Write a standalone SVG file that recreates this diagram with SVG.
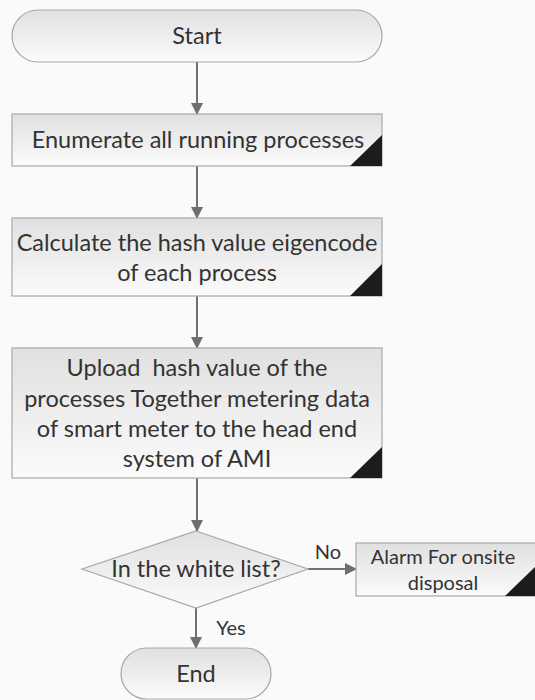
<svg xmlns="http://www.w3.org/2000/svg" width="535" height="700" viewBox="0 0 535 700">
<defs>
<linearGradient id="g" x1="0" y1="0" x2="0" y2="1">
<stop offset="0" stop-color="#e0e0e0"/>
<stop offset="1" stop-color="#fbfbfb"/>
</linearGradient>
<marker id="ah" markerWidth="12" markerHeight="12" refX="11" refY="6" orient="auto" markerUnits="userSpaceOnUse">
<path d="M0,0 L12,6 L0,12 Z" fill="#6e6e6e"/>
</marker>
</defs>
<style>
.shape{fill:url(#g);stroke:#a8a8a8;stroke-width:1.2}
.tri{fill:#1c1c1c}
.t{font-family:Lato,"Open Sans","Liberation Sans",sans-serif;font-size:23.5px;fill:#333;text-anchor:middle;white-space:pre}
.s{font-size:20px}
.conn{stroke:#707070;stroke-width:2;fill:none;marker-end:url(#ah)}
</style>
<rect width="535" height="700" fill="#fafafa"/>
<g id="connectors">
<line class="conn" x1="197" y1="62" x2="197" y2="114"/>
<line class="conn" x1="197" y1="166" x2="197" y2="218"/>
<line class="conn" x1="197" y1="296" x2="197" y2="348"/>
<line class="conn" x1="197" y1="478" x2="197" y2="531"/>
<line class="conn" x1="308" y1="569" x2="356" y2="569"/>
<line class="conn" x1="196" y1="608" x2="196" y2="648"/>
<text class="t s" x="328" y="559">No</text>
<text class="t s" x="231" y="635">Yes</text>
</g>
<g id="start">
<rect class="shape" x="12" y="10" width="370" height="52" rx="26" ry="26"/>
<text class="t" x="197" y="44">Start</text>
</g>
<g id="enumerate">
<rect class="shape" x="12" y="114" width="370" height="52"/>
<polygon class="tri" points="350,166 382,166 382,135"/>
<text class="t" x="198" y="148">Enumerate all running processes</text>
</g>
<g id="calculate">
<rect class="shape" x="12" y="218" width="370" height="78"/>
<polygon class="tri" points="350,296 382,296 382,264"/>
<text class="t" x="197" y="251">Calculate the hash value eigencode</text>
<text class="t" x="197" y="281">of each process</text>
</g>
<g id="upload">
<rect class="shape" x="12" y="348" width="370" height="130"/>
<polygon class="tri" points="350,478 382,478 382,447"/>
<text class="t" x="197" y="376">Upload  hash value of the</text>
<text class="t" x="197" y="407">processes Together metering data</text>
<text class="t" x="197" y="437">of smart meter to the head end</text>
<text class="t" x="197" y="467">system of AMI</text>
</g>
<g id="decision">
<polygon class="shape" points="196,531 308,569 196,608 82,569"/>
<text class="t" x="196" y="577">In the white list?</text>
</g>
<g id="alarm">
<rect class="shape" x="356" y="543" width="182" height="53"/>
<polygon class="tri" points="505,596 537,596 537,565"/>
<text class="t s" x="443" y="564">Alarm For onsite</text>
<text class="t s" x="443" y="590">disposal</text>
</g>
<g id="end">
<rect class="shape" x="121" y="648" width="150" height="51" rx="25.5" ry="25.5"/>
<text class="t" x="196" y="682">End</text>
</g>
</svg>
